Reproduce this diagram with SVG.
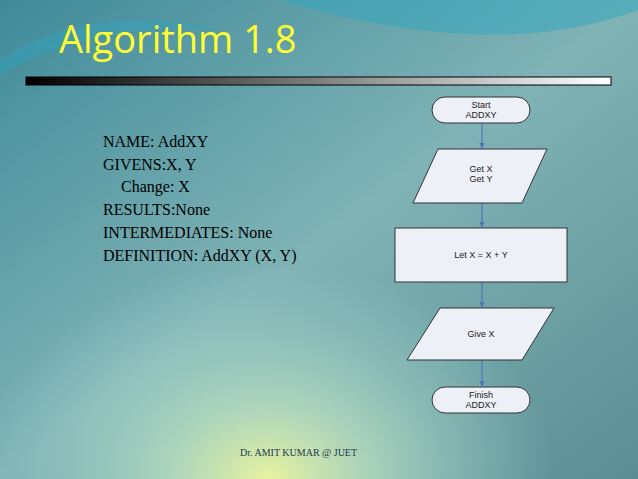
<svg xmlns="http://www.w3.org/2000/svg" width="638" height="479" viewBox="0 0 638 479">
<defs>
<linearGradient id="bg" x1="0" y1="0" x2="1" y2="1">
<stop offset="0" stop-color="#3f8a9a"/><stop offset="0.5" stop-color="#7fb3b5"/><stop offset="1" stop-color="#5a8e92"/>
</linearGradient>
<radialGradient id="glow" cx="0.42" cy="1.0" r="0.45">
<stop offset="0" stop-color="#e8f3a0"/><stop offset="0.35" stop-color="#b9dfc0" stop-opacity="0.8"/><stop offset="1" stop-color="#9fd0d0" stop-opacity="0"/>
</radialGradient>
<linearGradient id="bar" x1="0" x2="1"><stop offset="0" stop-color="#000"/><stop offset="1" stop-color="#fff"/></linearGradient>
<marker id="ah" viewBox="0 0 10 10" refX="9" refY="5" markerWidth="5" markerHeight="5" orient="auto"><path d="M0,0 L10,5 L0,10 z" fill="#4a78b8"/></marker>
<style>
.sh{fill:#eef0f8;stroke:#333;stroke-width:1}
.ft{font-family:"Liberation Sans",Arial,sans-serif;font-size:9px;fill:#222;text-anchor:middle}
.lt{font-family:"Liberation Serif","Times New Roman",serif;font-size:16px;fill:#000}
.cn{stroke:#4a78b8;stroke-width:1.2;fill:none;marker-end:url(#ah)}
</style>
</defs>
<rect width="638" height="479" fill="url(#bg)"/>
<rect width="638" height="479" fill="url(#glow)"/>
<path d="M280,0 C380,30 520,55 638,10 L638,0 Z" fill="#2fa6c0" opacity="0.5"/>
<path d="M0,60 C60,20 140,10 220,30 C120,25 50,45 0,75 Z" fill="#2fa6c0" opacity="0.4"/>
<text x="59" y="53" font-family="Open Sans,'Liberation Sans',sans-serif" font-size="38" fill="#ffff33">Algorithm 1.8</text>
<rect x="26" y="77" width="585" height="8" fill="url(#bar)" stroke="#000" stroke-width="1"/>
<g id="text">
<text class="lt" x="103" y="147">NAME: AddXY</text>
<text class="lt" x="103" y="170">GIVENS:X, Y</text>
<text class="lt" x="121" y="192">Change: X</text>
<text class="lt" x="103" y="215">RESULTS:None</text>
<text class="lt" x="103" y="238">INTERMEDIATES: None</text>
<text class="lt" x="103" y="261">DEFINITION: AddXY (X, Y)</text>
</g>
<g id="connectors">
<line class="cn" x1="482" y1="123" x2="482" y2="148"/>
<line class="cn" x1="482" y1="203" x2="482" y2="227"/>
<line class="cn" x1="482" y1="282" x2="482" y2="307"/>
<line class="cn" x1="482" y1="360" x2="482" y2="386"/>
</g>
<g id="start"><rect class="sh" x="432" y="97" width="98" height="26" rx="13"/><text class="ft" x="481" y="108">Start</text><text class="ft" x="481" y="118">ADDXY</text></g>
<g id="get"><polygon class="sh" points="438,149 547,149 522,203 413,203"/><text class="ft" x="481" y="172">Get X</text><text class="ft" x="481" y="182">Get Y</text></g>
<g id="let"><rect class="sh" x="395" y="228" width="172" height="54"/><text class="ft" x="481" y="258">Let X = X + Y</text></g>
<g id="give"><polygon class="sh" points="440,308 554,308 522,360 407,360"/><text class="ft" x="481" y="337">Give X</text></g>
<g id="finish"><rect class="sh" x="432" y="387" width="98" height="26" rx="13"/><text class="ft" x="481" y="398">Finish</text><text class="ft" x="481" y="408">ADDXY</text></g>
<text x="240" y="456" font-family="Liberation Serif,serif" font-size="10" fill="#1a3a50">Dr. AMIT KUMAR @ JUET</text>
</svg>
